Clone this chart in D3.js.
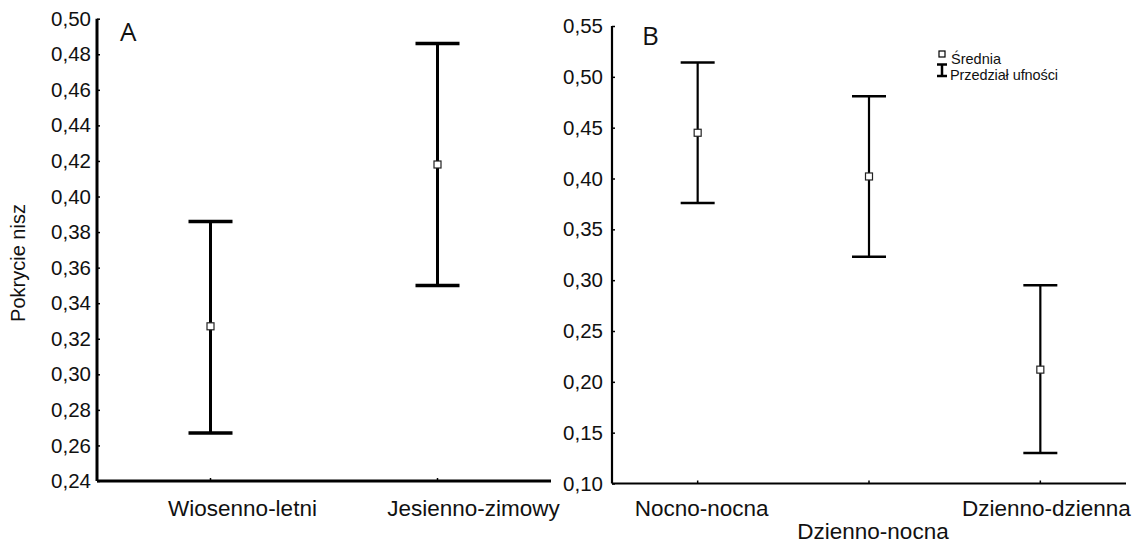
<!DOCTYPE html>
<html>
<head>
<meta charset="utf-8">
<script src="https://cdn.jsdelivr.net/npm/d3@7"></script>
<style>
  body { margin: 0; background: #fff; }
  svg { display: block; font-family: "Liberation Sans", Arial, sans-serif; }
</style>
</head>
<body>
<div id="chart"></div>
<script>
// Panel A: season
const seasonCats = ["Wiosenno-letni", "Jesienno-zimowy"];
const seasonMean = [0.327, 0.418];
const seasonLow = [0.267, 0.350];
const seasonHigh = [0.386, 0.486];
const seasonTicks = [0.24, 0.26, 0.28, 0.30, 0.32, 0.34, 0.36, 0.38, 0.40, 0.42, 0.44, 0.46, 0.48, 0.50];

// Panel B: activity pattern
const activityCats = ["Nocno-nocna", "Dzienno-nocna", "Dzienno-dzienna"];
const activityMean = [0.445, 0.402, 0.212];
const activityLow = [0.376, 0.323, 0.130];
const activityHigh = [0.514, 0.481, 0.295];
const activityTicks = [0.10, 0.15, 0.20, 0.25, 0.30, 0.35, 0.40, 0.45, 0.50, 0.55];

const width = 1134, height = 544;
const svg = d3.select("#chart").append("svg")
    .attr("width", width)
    .attr("height", height);

const fmt = v => d3.format(".2f")(v).replace(".", ",");

function drawPanel(opts) {
    const g = svg.append("g");

    const y = d3.scaleLinear().domain(opts.domain).range([opts.bottom, opts.top]);
    const x = d3.scalePoint().domain(opts.cats).range([opts.left, opts.right]).padding(0.5);

    // y axis
    const yAxis = d3.axisLeft(y).tickValues(opts.ticks).tickFormat(fmt).tickSize(-3).tickPadding(opts.tickPad);
    const ya = g.append("g").attr("transform", `translate(${opts.left},0)`).call(yAxis);
    ya.select(".domain").attr("stroke-width", opts.axisW).attr("d", `M0,${opts.top}V${opts.bottom}`);
    ya.selectAll(".tick line").attr("stroke-width", 1.5);
    ya.selectAll(".tick text").attr("font-size", 20.5).attr("fill", "#111");

    // x axis
    g.append("line")
        .attr("x1", opts.left).attr("x2", opts.right)
        .attr("y1", opts.bottom).attr("y2", opts.bottom)
        .attr("stroke", "#000").attr("stroke-width", opts.axisW);
    g.selectAll(".xtick").data(opts.cats).join("line")
        .attr("x1", d => x(d)).attr("x2", d => x(d))
        .attr("y1", opts.bottom).attr("y2", opts.bottom - 3)
        .attr("stroke", "#000").attr("stroke-width", 1.5);
    g.selectAll(".xlab").data(opts.cats).join("text")
        .attr("x", (d, i) => x(d) + opts.labelShift[i])
        .attr("y", (d, i) => opts.labelY[i])
        .attr("text-anchor", "middle")
        .attr("font-size", 22.5)
        .attr("fill", "#111")
        .text(d => d);

    // error bars
    const bars = g.selectAll(".bar").data(opts.cats).join("g");
    bars.append("line")
        .attr("x1", d => x(d)).attr("x2", d => x(d))
        .attr("y1", (d, i) => y(opts.high[i])).attr("y2", (d, i) => y(opts.low[i]))
        .attr("stroke", "#000").attr("stroke-width", opts.barW);
    [opts.high, opts.low].forEach(arr => {
        bars.append("line")
            .attr("x1", d => x(d) - opts.cap).attr("x2", d => x(d) + opts.cap)
            .attr("y1", (d, i) => y(arr[i])).attr("y2", (d, i) => y(arr[i]))
            .attr("stroke", "#000").attr("stroke-width", opts.capW);
    });
    bars.append("rect")
        .attr("x", d => x(d) - 3.5).attr("y", (d, i) => y(opts.mean[i]) - 3.5)
        .attr("width", 7).attr("height", 7)
        .attr("fill", "#fff").attr("stroke", "#222").attr("stroke-width", 1.2);

    // panel letter
    g.append("text")
        .attr("x", opts.letterX).attr("y", opts.letterY)
        .attr("font-size", 26)
        .attr("font-family", "'Open Sans', 'Liberation Sans', sans-serif")
        .attr("fill", "#111")
        .text(opts.letter);
}

drawPanel({
    cats: seasonCats, mean: seasonMean, low: seasonLow, high: seasonHigh,
    ticks: seasonTicks, domain: [0.24, 0.50],
    left: 97, right: 551, top: 18.7, bottom: 481,
    axisW: 3, barW: 3, capW: 3.5, cap: 22, tickPad: 6,
    labelShift: [32, 36], labelY: [516, 516],
    letter: "A", letterX: 120, letterY: 41
});

drawPanel({
    cats: activityCats, mean: activityMean, low: activityLow, high: activityHigh,
    ticks: activityTicks, domain: [0.10, 0.55],
    left: 612, right: 1126, top: 26, bottom: 483.5,
    axisW: 2.2, barW: 2.2, capW: 2.5, cap: 17, tickPad: 9,
    labelShift: [4, 4, 6], labelY: [516, 539, 516],
    letter: "B", letterX: 642, letterY: 45
});

// y label
svg.append("text")
    .attr("transform", "translate(25,263) rotate(-90)")
    .attr("text-anchor", "middle")
    .attr("font-size", 20)
    .attr("fill", "#111")
    .text("Pokrycie nisz");

// legend
const legend = svg.append("g").attr("transform", "translate(942,0)");
legend.append("rect")
    .attr("x", -3).attr("y", 51).attr("width", 6).attr("height", 6)
    .attr("fill", "#fff").attr("stroke", "#000").attr("stroke-width", 1.2);
legend.append("path")
    .attr("d", "M-5,64.5H5M0,64.5V76M-5,76H5")
    .attr("stroke", "#000").attr("stroke-width", 2.5).attr("fill", "none");
legend.append("text").attr("x", 9).attr("y", 64).attr("font-size", 14.5).attr("fill", "#111").text("Średnia");
legend.append("text").attr("x", 8).attr("y", 80).attr("font-size", 14.5).attr("fill", "#111")
    .attr("letter-spacing", -0.1).text("Przedział ufności");
</script>
</body>
</html>
